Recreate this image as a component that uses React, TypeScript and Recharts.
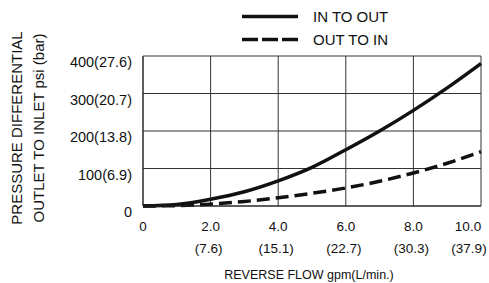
import { LineChart, Line, XAxis, YAxis, CartesianGrid, Label } from 'recharts'

const flow = [0, 1, 2, 3, 4, 5, 6, 7, 8, 9, 10]
const inToOut = [0, 4, 18, 38, 67, 103, 150, 200, 255, 315, 380]
const outToIn = [0, 1, 5, 12, 22, 34, 48, 66, 88, 114, 145]

const xTicks = [0, 2, 4, 6, 8, 10]
const xTickLabels = ['0', '2.0', '4.0', '6.0', '8.0', '10.0']
const xTickLpm = ['', '(7.6)', '(15.1)', '(22.7)', '(30.3)', '(37.9)']
const yTicks = [0, 100, 200, 300, 400]
const yTickLabels = ['0', '100(6.9)', '200(13.8)', '300(20.7)', '400(27.6)']

const seriesNames = ['IN TO OUT', 'OUT TO IN']

const data = flow.map((f, i) => ({ flow: f, inToOut: inToOut[i], outToIn: outToIn[i] }))

const FONT = '"Liberation Sans", Arial, Helvetica, sans-serif'

function XTick({ x, y, payload }: any) {
  const i = xTicks.indexOf(payload.value)
  // the last labels are nudged in so they stay inside the picture
  const last = i === xTicks.length - 1
  return (
    <g fontFamily={FONT} fontSize={13.5} fill="#111">
      <text x={last ? x - 13 : x} y={y + 16.5} textAnchor="middle">
        {xTickLabels[i]}
      </text>
      <text x={last ? x - 12 : x - 2} y={y + 39} textAnchor="middle">
        {xTickLpm[i]}
      </text>
    </g>
  )
}

function YTick({ x, y, payload }: any) {
  const i = yTicks.indexOf(payload.value)
  return (
    <text x={x - 3} y={y + 11} textAnchor="end" fontSize={14.5} fill="#111" fontFamily={FONT}>
      {yTickLabels[i]}
    </text>
  )
}

function LegendBox() {
  return (
    <div
      style={{
        position: 'absolute',
        left: 242,
        top: 5,
        fontFamily: FONT,
        fontSize: 15,
        color: '#111',
        lineHeight: '23px',
      }}
    >
      {seriesNames.map((name, i) => (
        <div key={name} style={{ display: 'flex', alignItems: 'center' }}>
          <svg width={71} height={23}>
            <line
              x1={0}
              y1={11.5}
              x2={56}
              y2={11.5}
              stroke="#111"
              strokeWidth={3.5}
              strokeDasharray={i === 1 ? '16 4' : undefined}
            />
          </svg>
          <span>{name}</span>
        </div>
      ))}
    </div>
  )
}

function YLabel({ viewBox }: any) {
  const cy = viewBox.y + viewBox.height / 2 - 3
  return (
    <g fontFamily={FONT} fontSize={15} fill="#111">
      <text x={22} y={cy} transform={`rotate(-90 22 ${cy})`} textAnchor="middle">
        PRESSURE DIFFERENTIAL
      </text>
      <text x={44} y={cy} transform={`rotate(-90 44 ${cy})`} textAnchor="middle">
        OUTLET TO INLET psi (bar)
      </text>
    </g>
  )
}

export default function App() {
  return (
    <div style={{ position: 'absolute', left: 0, top: 0, width: 489, height: 283, background: '#fff' }}>
      <LineChart width={489} height={283} data={data} margin={{ top: 56, right: 8, bottom: 0, left: 0 }}>
        <CartesianGrid stroke="#333" strokeWidth={1} />
        <XAxis
          dataKey="flow"
          type="number"
          domain={[0, 10]}
          ticks={xTicks}
          tick={<XTick />}
          tickLine={false}
          axisLine={{ stroke: '#222' }}
          height={77}
        >
          <Label
            value="REVERSE FLOW gpm(L/min.)"
            position="insideBottom"
            offset={4}
            dx={-3}
            style={{ fontFamily: FONT, fontSize: 12.5, fill: '#111' }}
          />
        </XAxis>
        <YAxis
          type="number"
          domain={[0, 400]}
          ticks={yTicks}
          tick={<YTick />}
          tickLine={false}
          axisLine={{ stroke: '#222' }}
          width={143}
        >
          <Label content={<YLabel />} />
        </YAxis>
        <Line
          dataKey="inToOut"
          type="monotone"
          stroke="#111"
          strokeWidth={3.5}
          dot={false}
          isAnimationActive={false}
        />
        <Line
          dataKey="outToIn"
          type="monotone"
          stroke="#111"
          strokeWidth={3.5}
          strokeDasharray="13 6"
          dot={false}
          isAnimationActive={false}
        />
      </LineChart>
      <LegendBox />
    </div>
  )
}
